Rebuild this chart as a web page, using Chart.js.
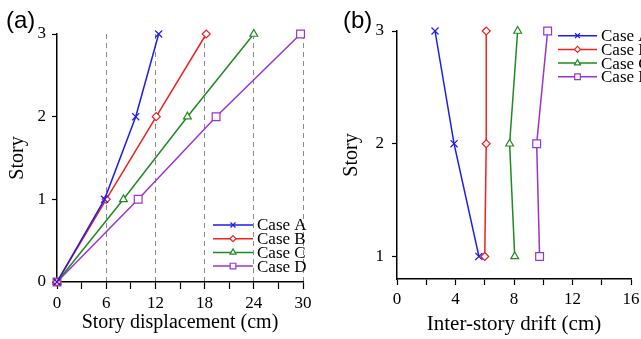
<!DOCTYPE html>
<html lang="en">
<head>
  <meta charset="UTF-8">
  <title>Story displacement and inter-story drift</title>
  <script src="https://cdn.jsdelivr.net/npm/chart.js"></script>
  <style>
    html, body { margin: 0; padding: 0; background: #fff; overflow: hidden; width: 641px; height: 339px; }
    .wrap { position: relative; width: 641px; height: 339px; }
    canvas { position: absolute; top: 0; }
    .tag { position: absolute; font-family: "Liberation Sans", Arial, sans-serif; font-size: 24px; color: #000; line-height: 1; }
  </style>
</head>
<body>
  <div class="wrap">
    <canvas id="chartA" width="320" height="339" style="left:0"></canvas>
    <canvas id="chartB" width="340" height="339" style="left:320px"></canvas>
    <div class="tag" style="left:6px;top:8px">(a)</div>
    <div class="tag" style="left:343px;top:8px">(b)</div>
  </div>

  <script>
    const caseNames = ['Case A', 'Case B', 'Case C', 'Case D'];

    // (a) story displacement
    const storiesA = [0, 1, 2, 3];
    const dispA = [0, 5.8, 9.6, 12.4];
    const dispB = [0, 6.0, 12.1, 18.2];
    const dispC = [0, 8.1, 15.9, 24.0];
    const dispD = [0, 9.9, 19.4, 29.7];

    // (b) inter-story drift
    const storiesB = [1, 2, 3];
    const driftA = [5.6, 3.9, 2.6];
    const driftB = [6.0, 6.1, 6.1];
    const driftC = [8.05, 7.7, 8.25];
    const driftD = [9.75, 9.55, 10.3];

    const colors = ['#1c1cf0', '#f02020', '#1f8a1f', '#9b33d1'];
    const markers = ['crossRot', 'rectRot', 'triangle', 'rect'];
    const markerSize = [5, 4, 4.5, 5.5];
    const legendSize = [3.5, 3, 3.5, 4];

    const serif = '"Liberation Serif", "Times New Roman", serif';

    function makeSets(xs, ys) {
      return xs.map((vals, i) => ({
        label: caseNames[i],
        data: vals.map((v, j) => ({ x: v, y: ys[j] })),
        borderColor: colors[i],
        backgroundColor: '#fff',
        borderWidth: 1.5,
        pointStyle: markers[i],
        pointRadius: markerSize[i],
        pointBorderWidth: 1.2,
        pointBackgroundColor: '#fff',
        tension: 0,
        clip: false
      }));
    }

    // legend: short line with marker in the middle, then the label
    const lineLegend = {
      id: 'lineLegend',
      afterDraw(chart, args, opts) {
        const ctx = chart.ctx;
        ctx.save();
        chart.data.datasets.forEach((ds, i) => {
          const y = opts.y + i * opts.step;
          ctx.strokeStyle = ds.borderColor;
          ctx.lineWidth = 1.5;
          ctx.beginPath();
          ctx.moveTo(opts.x, y);
          ctx.lineTo(opts.x + opts.len, y);
          ctx.stroke();
          ctx.fillStyle = '#fff';
          ctx.lineWidth = 1.2;
          Chart.helpers.drawPoint(ctx, { pointStyle: ds.pointStyle, radius: legendSize[i], borderWidth: 1.2, rotation: 0 }, opts.x + opts.len / 2, y);
          ctx.fillStyle = '#000';
          ctx.font = '17px ' + serif;
          ctx.textBaseline = 'middle';
          ctx.textAlign = 'left';
          ctx.fillText(ds.label, opts.x + opts.len + 4, y + 1);
        });
        ctx.restore();
      }
    };

    const tickFont = { family: serif, size: 17 };

    new Chart(document.getElementById('chartA'), {
      type: 'line',
      data: { datasets: makeSets([dispA, dispB, dispC, dispD], storiesA) },
      plugins: [lineLegend],
      options: {
        responsive: false,
        animation: false,
        devicePixelRatio: 1,
        layout: { padding: { left: 0, top: 34, right: 17, bottom: 0 } },
        plugins: {
          legend: { display: false },
          tooltip: { enabled: false },
          lineLegend: { x: 213, y: 225, step: 13.7, len: 40 }
        },
        scales: {
          x: {
            type: 'linear', min: 0, max: 30,
            afterFit: s => { s.height = 57; },
            ticks: { stepSize: 3, color: '#000', font: tickFont, padding: 4, maxRotation: 0,
              callback: v => (v % 6 === 0 ? v : '') },
            grid: {
              drawOnChartArea: true,
              color: c => (c.tick && c.tick.value > 0 && c.tick.value % 6 === 0) ? '#8a8a8a' : 'rgba(0,0,0,0)',
              lineWidth: 1,
              tickColor: '#000', tickLength: 7, tickWidth: 1.2
            },
            border: { color: '#000', width: 1.5, dash: [5, 4] },
            title: { display: true, text: 'Story displacement (cm)', color: '#000',
              font: { family: serif, size: 20 }, padding: { bottom: 4 } }
          },
          y: {
            type: 'linear', min: 0, max: 3,
            afterFit: s => { s.width = 57; },
            ticks: { stepSize: 1, color: '#000', font: tickFont, padding: 6 },
            grid: { drawOnChartArea: false, tickColor: '#000', tickLength: 5, tickWidth: 1.2 },
            border: { color: '#000', width: 1.5 },
            title: { display: true, text: 'Story', color: '#000',
              font: { family: serif, size: 20 }, padding: { top: 6 } }
          }
        }
      }
    });

    new Chart(document.getElementById('chartB'), {
      type: 'line',
      data: { datasets: makeSets([driftA, driftB, driftC, driftD], storiesB) },
      plugins: [lineLegend],
      options: {
        responsive: false,
        animation: false,
        devicePixelRatio: 1,
        layout: { padding: { left: 0, top: 31, right: 29, bottom: 0 } },
        plugins: {
          legend: { display: false },
          tooltip: { enabled: false },
          lineLegend: { x: 238, y: 35.7, step: 13.7, len: 39 }
        },
        scales: {
          x: {
            type: 'linear', min: 0, max: 16,
            afterFit: s => { s.height = 60; },
            ticks: { stepSize: 2, color: '#000', font: tickFont, padding: 4, maxRotation: 0,
              callback: v => (v % 4 === 0 ? v : '') },
            grid: { drawOnChartArea: false, tickColor: '#000', tickLength: 6, tickWidth: 1.2 },
            border: { color: '#000', width: 1.5 },
            title: { display: true, text: 'Inter-story drift (cm)', color: '#000',
              font: { family: serif, size: 21 }, padding: { bottom: 2 } }
          },
          y: {
            type: 'linear', min: 0.8, max: 3,
            afterFit: s => { s.width = 77; },
            afterBuildTicks: s => { s.ticks = storiesB.map(v => ({ value: v })); },
            ticks: { color: '#000', font: tickFont, padding: 8 },
            grid: { drawOnChartArea: false, tickColor: '#000', tickLength: 5, tickWidth: 1.2 },
            border: { color: '#000', width: 1.5 },
            title: { display: true, text: 'Story', color: '#000',
              font: { family: serif, size: 20 }, padding: { top: 20 } }
          }
        }
      }
    });
  </script>
</body>
</html>
